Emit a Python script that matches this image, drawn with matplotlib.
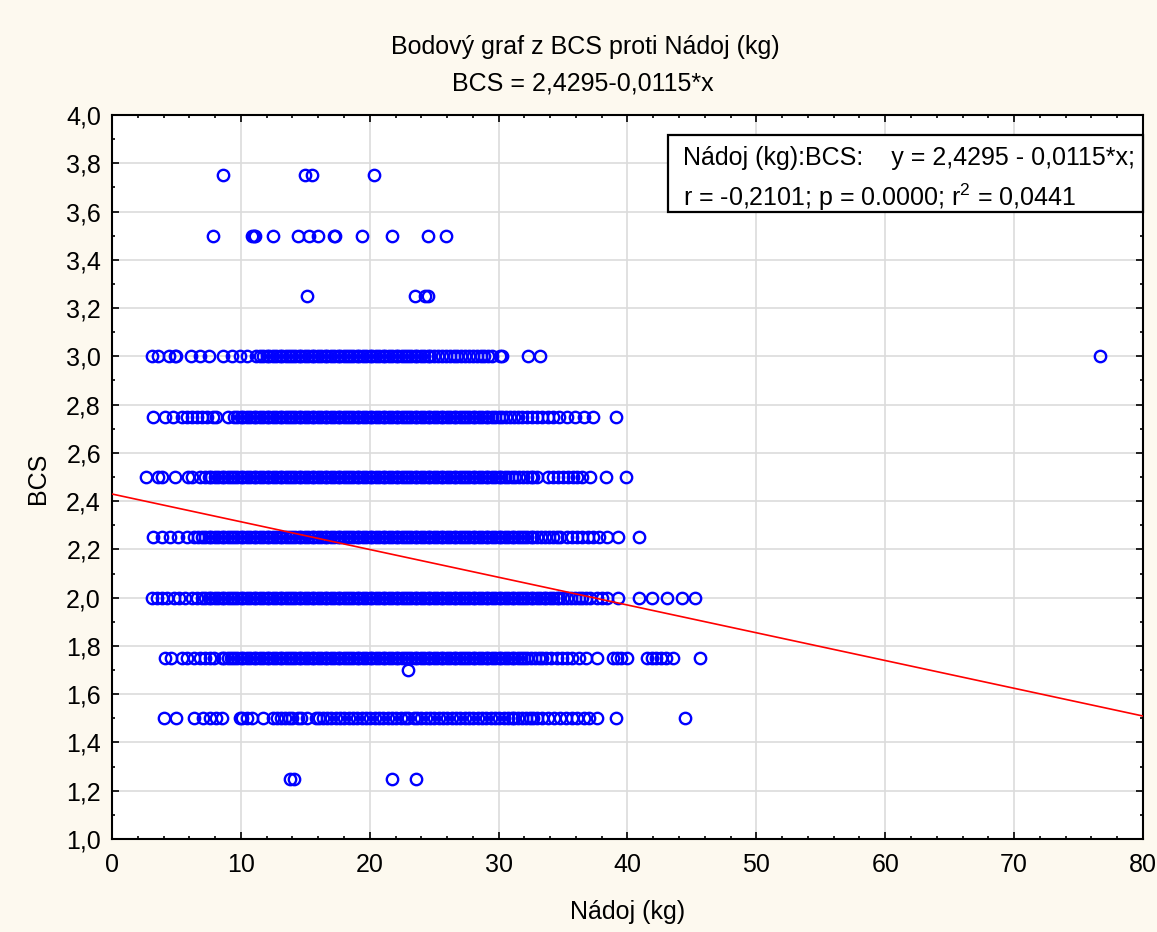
import numpy as np
import matplotlib
matplotlib.use('Agg')
import matplotlib.pyplot as plt
from matplotlib.ticker import MultipleLocator, FuncFormatter
from matplotlib.patches import Rectangle

plt.rcParams['font.family'] = ['Liberation Sans', 'DejaVu Sans']
plt.rcParams['mathtext.fontset'] = 'custom'
plt.rcParams['mathtext.rm'] = 'Liberation Sans'
plt.rcParams['mathtext.it'] = 'Liberation Sans'

# Nádoj (kg) hodnoty pro jednotlivé úrovně BCS
bcs_375 = [8.6, 15.0, 15.5, 20.3]
bcs_350 = [7.8, 10.9, 11.0, 11.1, 12.5, 14.4, 15.3, 16.0, 17.2, 17.3, 19.4, 21.7, 24.5, 25.9]
bcs_325 = [15.1, 23.5, 24.3, 24.5]
bcs_300 = [3.1, 3.6, 4.4, 4.9, 5.0, 6.1, 6.8, 7.5, 8.6, 9.3, 9.9, 10.5, 11.2,
           11.5, 11.7, 12.0, 12.2, 12.5, 12.7, 13.0, 13.2, 13.5, 13.7, 14.0, 14.2, 14.5, 14.7,
           15.0, 15.2, 15.5, 15.7, 16.0, 16.2, 16.5, 16.7, 17.0, 17.2, 17.5, 17.7, 18.0, 18.2,
           18.5, 18.7, 19.0, 19.2, 19.5, 19.7, 20.0, 20.2, 20.5, 20.7, 21.0, 21.2, 21.5, 21.7,
           22.0, 22.2, 22.5, 22.7, 23.0, 23.2, 23.5, 23.7, 24.0, 24.2, 24.5, 24.7, 25.0, 25.3,
           25.6, 25.9, 26.2, 26.5, 26.8, 27.1, 27.4, 27.7, 28.0, 28.3, 28.6, 28.9, 29.2, 29.5,
           30.1, 30.3, 32.3, 33.2, 76.7]
bcs_275 = [3.2, 4.1, 4.7, 5.4, 5.8, 6.2, 6.6, 7.0, 7.4, 7.8, 8.1, 9.0,
           9.5, 9.7, 10.0, 10.2, 10.5, 10.7, 11.0, 11.2, 11.5, 11.7, 12.0, 12.2, 12.5, 12.7,
           13.0, 13.2, 13.5, 13.7, 14.0, 14.2, 14.5, 14.7, 15.0, 15.2, 15.5, 15.7, 16.0, 16.2,
           16.5, 16.7, 17.0, 17.2, 17.5, 17.7, 18.0, 18.2, 18.5, 18.7, 19.0, 19.2, 19.5, 19.7,
           20.0, 20.2, 20.5, 20.7, 21.0, 21.2, 21.5, 21.7, 22.0, 22.2, 22.5, 22.7, 23.0, 23.2,
           23.5, 23.7, 24.0, 24.2, 24.5, 24.7, 25.0, 25.2, 25.5, 25.7, 26.0, 26.2, 26.5, 26.7,
           27.0, 27.2, 27.5, 27.7, 28.0, 28.2, 28.5, 28.7, 29.0, 29.2, 29.5, 29.7, 30.0, 30.3,
           30.6, 30.9, 31.2, 31.5,
           31.8, 32.2, 32.6, 33.0, 33.4, 33.8, 34.2, 34.7, 35.3, 35.9, 36.6, 37.3, 39.1]
bcs_250 = [2.6, 3.6, 3.9, 4.9, 5.9, 6.2, 6.8,
           7.2, 7.5, 7.7, 8.0, 8.2, 8.5, 8.7, 9.0, 9.2, 9.5, 9.7, 10.0, 10.2, 10.5, 10.7,
           11.0, 11.2, 11.5, 11.7, 12.0, 12.2, 12.5, 12.7, 13.0, 13.2, 13.5, 13.7, 14.0, 14.2,
           14.5, 14.7, 15.0, 15.2, 15.5, 15.7, 16.0, 16.2, 16.5, 16.7, 17.0, 17.2, 17.5, 17.7,
           18.0, 18.2, 18.5, 18.7, 19.0, 19.2, 19.5, 19.7, 20.0, 20.2, 20.5, 20.7, 21.0, 21.2,
           21.5, 21.7, 22.0, 22.2, 22.5, 22.7, 23.0, 23.2, 23.5, 23.7, 24.0, 24.2, 24.5, 24.7,
           25.0, 25.2, 25.5, 25.7, 26.0, 26.2, 26.5, 26.7, 27.0, 27.2, 27.5, 27.7, 28.0, 28.2,
           28.5, 28.7, 29.0, 29.2, 29.5, 29.7, 30.0, 30.2, 30.5, 30.7, 31.0, 31.3, 31.6, 31.9,
           32.2, 32.5, 32.7,
           33.0, 33.8, 34.2, 34.6, 35.0, 35.4, 35.8, 36.1, 36.5, 37.1, 38.3, 39.9]
bcs_225 = [3.2, 3.9, 4.5, 5.1, 5.8, 6.4,
           6.7, 7.0, 7.2, 7.5, 7.7, 8.0, 8.2, 8.5, 8.7, 9.0, 9.2, 9.5, 9.7, 10.0, 10.2, 10.5,
           10.7, 11.0, 11.2, 11.5, 11.7, 12.0, 12.2, 12.5, 12.7, 13.0, 13.2, 13.5, 13.7, 14.0,
           14.2, 14.5, 14.7, 15.0, 15.2, 15.5, 15.7, 16.0, 16.2, 16.5, 16.7, 17.0, 17.2, 17.5,
           17.7, 18.0, 18.2, 18.5, 18.7, 19.0, 19.2, 19.5, 19.7, 20.0, 20.2, 20.5, 20.7, 21.0,
           21.2, 21.5, 21.7, 22.0, 22.2, 22.5, 22.7, 23.0, 23.2, 23.5, 23.7, 24.0, 24.2, 24.5,
           24.7, 25.0, 25.2, 25.5, 25.7, 26.0, 26.2, 26.5, 26.7, 27.0, 27.2, 27.5, 27.7, 28.0,
           28.2, 28.5, 28.7, 29.0, 29.2, 29.5, 29.7, 30.0, 30.2, 30.5, 30.7, 31.0, 31.2, 31.5,
           31.7, 32.0, 32.2, 32.5, 32.7, 33.0, 33.3, 33.6, 33.9, 34.2, 34.5, 34.8,
           35.3, 35.7, 36.1, 36.5, 36.9, 37.3, 37.8, 38.4, 39.3, 40.9]
bcs_200 = [3.1, 3.5, 3.9, 4.3, 4.8, 5.2, 5.7, 6.2, 6.6,
           7.0, 7.2, 7.5, 7.7, 8.0, 8.2, 8.5, 8.7, 9.0, 9.2, 9.5, 9.7, 10.0, 10.2, 10.5,
           10.7, 11.0, 11.2, 11.5, 11.7, 12.0, 12.2, 12.5, 12.7, 13.0, 13.2, 13.5, 13.7, 14.0,
           14.2, 14.5, 14.7, 15.0, 15.2, 15.5, 15.7, 16.0, 16.2, 16.5, 16.7, 17.0, 17.2, 17.5,
           17.7, 18.0, 18.2, 18.5, 18.7, 19.0, 19.2, 19.5, 19.7, 20.0, 20.2, 20.5, 20.7, 21.0,
           21.2, 21.5, 21.7, 22.0, 22.2, 22.5, 22.7, 23.0, 23.2, 23.5, 23.7, 24.0, 24.2, 24.5,
           24.7, 25.0, 25.2, 25.5, 25.7, 26.0, 26.2, 26.5, 26.7, 27.0, 27.2, 27.5, 27.7, 28.0,
           28.2, 28.5, 28.7, 29.0, 29.2, 29.5, 29.7, 30.0, 30.2, 30.5, 30.7, 31.0, 31.2, 31.5,
           31.7, 32.0, 32.2, 32.5, 32.7, 33.0, 33.2, 33.5, 33.7, 34.0, 34.2, 34.5, 34.7, 35.0,
           35.3, 35.6, 35.9, 36.2, 36.5, 36.8, 37.1,
           37.6, 38.0, 38.4, 39.3, 40.9, 41.9, 43.1, 44.2, 45.2]
bcs_175 = [4.1, 4.6, 5.4, 5.8, 6.4, 6.8, 7.2, 7.6, 7.9,
           8.5, 8.7, 9.0, 9.2, 9.5, 9.7, 10.0, 10.2, 10.5, 10.7, 11.0, 11.2, 11.5, 11.7,
           12.0, 12.2, 12.5, 12.7, 13.0, 13.2, 13.5, 13.7, 14.0, 14.2, 14.5, 14.7, 15.0, 15.2,
           15.5, 15.7, 16.0, 16.2, 16.5, 16.7, 17.0, 17.2, 17.5, 17.7, 18.0, 18.2, 18.5, 18.7,
           19.0, 19.2, 19.5, 19.7, 20.0, 20.2, 20.5, 20.7, 21.0, 21.2, 21.5, 21.7, 22.0, 22.2,
           22.5, 22.7, 23.0, 23.2, 23.5, 23.7, 24.0, 24.2, 24.5, 24.7, 25.0, 25.2, 25.5, 25.7,
           26.0, 26.2, 26.5, 26.7, 27.0, 27.2, 27.5, 27.7, 28.0, 28.2, 28.5, 28.7, 29.0, 29.2,
           29.5, 29.7, 30.0, 30.2, 30.5, 30.7, 31.0, 31.2, 31.5, 31.7, 32.0, 32.2, 32.5, 32.8,
           33.1, 33.4, 33.7,
           34.1, 34.5, 34.9, 35.3, 35.7, 36.2, 36.8, 37.6, 38.9, 39.2, 39.5, 40.0,
           41.5, 41.9, 42.2, 42.6, 43.0, 43.5, 45.6]
bcs_170 = [23.0]
bcs_150 = [4.0, 5.0, 6.4, 7.1, 7.6, 8.1, 8.5, 9.9, 10.1, 10.5, 10.9, 11.7, 12.5, 12.8,
           13.1, 13.4, 13.7, 14.0, 14.4, 14.7, 15.1, 15.8, 16.1, 16.4, 16.7, 17.0, 17.4, 17.7,
           18.0, 18.4, 18.7, 19.0, 19.4, 19.7, 20.0, 20.4, 20.7, 21.0, 21.4, 21.7, 22.0, 22.4,
           22.7, 23.0, 23.4, 23.7, 24.0, 24.4, 24.7, 25.0, 25.4, 25.7, 26.0, 26.4, 26.7, 27.0,
           27.4, 27.7, 28.0, 28.4, 28.7, 29.0, 29.4, 29.7, 30.0, 30.4, 30.7, 31.0, 31.2, 31.5,
           31.8, 32.1, 32.4, 32.7, 33.0, 33.4, 33.8, 34.3, 34.8, 35.2, 35.7, 36.1, 36.6, 37.0,
           37.6, 39.1, 44.5]
bcs_125 = [13.8, 14.1, 21.7, 23.6]

levels = [3.75, 3.5, 3.25, 3.0, 2.75, 2.5, 2.25, 2.0, 1.75, 1.7, 1.5, 1.25]
groups = [bcs_375, bcs_350, bcs_325, bcs_300, bcs_275, bcs_250, bcs_225, bcs_200,
          bcs_175, bcs_170, bcs_150, bcs_125]

# regrese BCS = 2,4295 - 0,0115*x
intercept = 2.4295
slope = -0.0115
line_x = [0, 80]

fig = plt.figure(figsize=(11.57, 9.32), dpi=100)
fig.patch.set_facecolor('#FDF9EF')
ax = fig.add_axes([0.0968, 0.0998, 0.8911, 0.7768])
ax.set_facecolor('white')

x_all = np.concatenate([np.array(g, dtype=float) for g in groups])
y_all = np.concatenate([np.full(len(g), lv) for g, lv in zip(groups, levels)])
ax.plot(x_all, y_all, 'o', mfc='none', mec='#0000FF', mew=1.7, ms=8.2, zorder=3)

ax.plot(line_x, [intercept + slope * v for v in line_x], color='#FF0000', lw=1.2, zorder=4)

ax.set_xlim(0, 80)
ax.set_ylim(1.0, 4.0)
ax.xaxis.set_major_locator(MultipleLocator(10))
ax.xaxis.set_minor_locator(MultipleLocator(2))
ax.yaxis.set_major_locator(MultipleLocator(0.2))
ax.yaxis.set_minor_locator(MultipleLocator(0.1))
ax.yaxis.set_major_formatter(FuncFormatter(lambda v, p: f'{v:.1f}'.replace('.', ',')))
ax.grid(True, which='major', color='#DCDCDC', lw=1.2, zorder=0)
ax.tick_params(which='both', direction='in', top=True, right=True, width=1.2, color='black')
ax.tick_params(which='major', length=5, labelsize=18)
ax.tick_params(which='minor', length=2.5)
ax.tick_params(axis='x', pad=10)
ax.tick_params(axis='y', pad=8)
for s in ax.spines.values():
    s.set_linewidth(1.5)
    s.set_color('black')

fig.text(0.506, 0.9496, 'Bodový graf z BCS proti Nádoj (kg)', ha='center', va='center', fontsize=18)
fig.text(0.504, 0.9099, 'BCS = 2,4295-0,0115*x', ha='center', va='center', fontsize=18)
fig.text(0.542, 0.0215, 'Nádoj (kg)', ha='center', va='center', fontsize=18)
fig.text(0.033, 0.487, 'BCS', ha='center', va='center', rotation=90, fontsize=18)

ax.add_patch(Rectangle((0.539, 0.866), 0.461, 0.1064, transform=ax.transAxes,
                       facecolor='white', edgecolor='black', lw=1.6, zorder=6, clip_on=False))
ax.text(0.554, 0.941, 'Nádoj (kg):BCS:    y = 2,4295 - 0,0115*x;', transform=ax.transAxes,
        ha='left', va='center', fontsize=18, zorder=7)
ax.text(0.554, 0.887, 'r = -0,2101; p = 0.0000; r$^2$ = 0,0441', transform=ax.transAxes,
        ha='left', va='center', fontsize=18, zorder=7)

fig.savefig('out.png', dpi=100, facecolor=fig.get_facecolor())
